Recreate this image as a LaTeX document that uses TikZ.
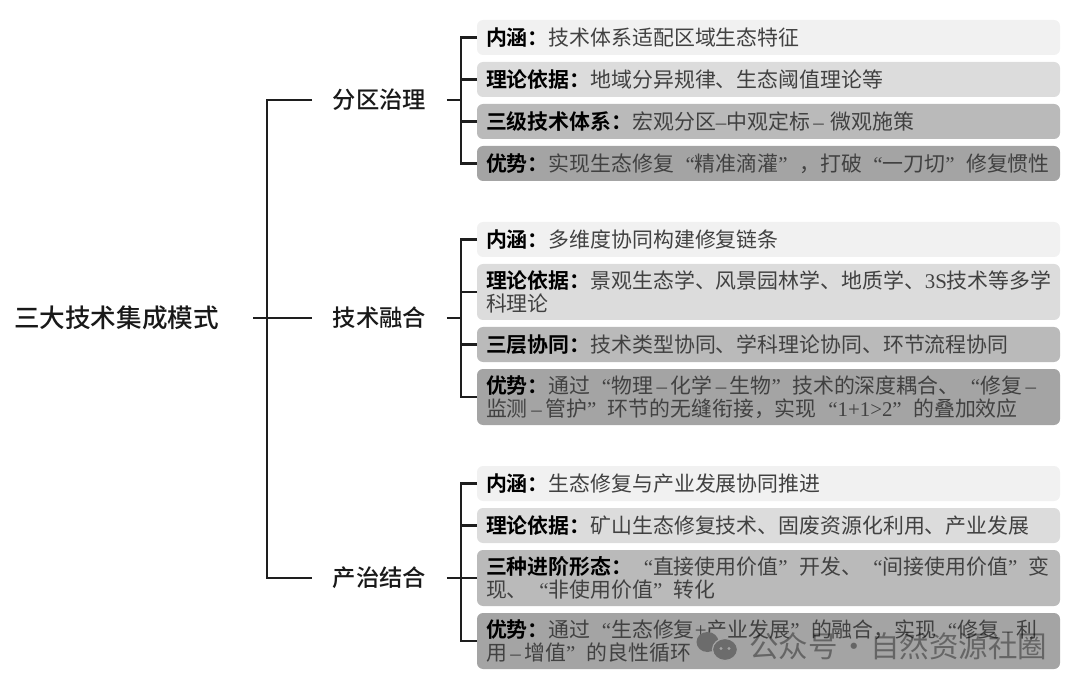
\documentclass[tikz,border=0pt]{standalone}
\usepackage{fontspec}
\setmainfont[BoldFont=* Bold]{Noto Sans CJK SC}
\newfontfamily\latfont{Liberation Serif}
\newfontfamily\midfont{Noto Sans CJK SC Medium}
\usepackage{tikz}
\usetikzlibrary{positioning}
\definecolor{cBox}{RGB}{241,241,241}
\definecolor{cBoxb}{RGB}{220,220,220}
\definecolor{cBoxc}{RGB}{186,186,186}
\definecolor{cBoxd}{RGB}{164,164,164}
\definecolor{cLine}{RGB}{30,30,30}
\definecolor{cText}{RGB}{65,65,65}
\definecolor{cIcon}{RGB}{108,108,108}
\tikzset{
  basebox/.style={rectangle,rounded corners=6pt,align=left,text width=565pt,inner xsep=9pt,inner ysep=-2pt,outer sep=0pt,
    minimum height=35pt,text=cText,font=\fontsize{20.9}{22.5}\selectfont},
  itemone/.style={basebox,fill=cBox},
  itemtwo/.style={basebox,fill=cBoxb},
  itemthree/.style={basebox,fill=cBoxc},
  itemfour/.style={basebox,fill=cBoxd},
  rootnode/.style={inner sep=0pt,text=black!90,font=\midfont\fontsize{25.6}{28}\selectfont},
  subnode/.style={inner ysep=0pt,inner xsep=20.5pt,text=black!90,font=\midfont\fontsize{23.3}{26}\selectfont},
  brline/.style={line width=2.2pt,color=cLine},
  iconbub/.style={fill=cIcon,draw=cBoxd,line width=1.2pt},
  markstyle/.style={inner sep=0pt,text=black,opacity=0.38,font=\fontsize{29.5}{32}\selectfont}
}
\newcommand{\tagtxt}[1]{\textbf{\textcolor{black}{#1}}}
\newcommand{\qL}{\hspace*{0.55em}{\latfont “}}
\newcommand{\qR}{{\latfont ”}\hspace*{0.55em}}
\newcommand{\dsh}{{\latfont \,–\,}}
\begin{document}
\begin{tikzpicture}[x=1pt,y=-1pt,node distance=7pt]
  \useasboundingbox (0,0) rectangle (1080,687);

  \node[rootnode] (root) at (116.5,318) {三大技术集成模式};
  \node[subnode] (sub1) at (379.5,100) {分区治理};
  \node[subnode] (sub2) at (379.5,318) {技术融合};
  \node[subnode] (sub3) at (379.5,578) {产治结合};

  % first group
  \node[itemone,anchor=north west] (a1) at (477,20) {\tagtxt{内涵：}技术体系适配区域生态特征};
  \node[itemtwo,below=of a1] (a2) {\tagtxt{理论依据：}地域分异规律、生态阈值理论等};
  \node[itemthree,below=of a2] (a3) {\tagtxt{三级技术体系：}宏观分区{\latfont –}中观定标\dsh\,微观施策};
  \node[itemfour,below=of a3] (a4) {\tagtxt{优势：}实现生态修复\qL 精准滴灌\qR，打破\qL 一刀切\qR 修复惯性};

  % second group
  \node[itemone,anchor=north west] (b1) at (477,222) {\tagtxt{内涵：}多维度协同构建修复链条};
  \node[itemtwo,below=of b1,minimum height=56pt] (b2)
    {\tagtxt{理论依据：}景观生态学、风景园林学、地质学、{\latfont 3S}技术等多学\\科理论};
  \node[itemthree,below=of b2] (b3) {\tagtxt{三层协同：}技术类型协同、学科理论协同、环节流程协同};
  \node[itemfour,below=of b3,minimum height=56pt] (b4)
    {\tagtxt{优势：}通过\qL 物理\dsh 化学\dsh 生物\qR 技术的深度耦合、\qL 修复\dsh\\
     监测\dsh 管护\qR 环节的无缝衔接，实现\qL{\latfont 1+1>2}\qR 的叠加效应};

  % third group
  \node[itemone,anchor=north west] (c1) at (477,466) {\tagtxt{内涵：}生态修复与产业发展协同推进};
  \node[itemtwo,below=of c1] (c2) {\tagtxt{理论依据：}矿山生态修复技术、固废资源化利用、产业发展};
  \node[itemthree,below=of c2,minimum height=56pt] (c3)
    {\tagtxt{三种进阶形态：}\qL 直接使用价值\qR 开发、\qL 间接使用价值\qR 变\\
     现、\qL 非使用价值\qR 转化};
  \node[itemfour,below=of c3,minimum height=56pt] (c4)
    {\tagtxt{优势：}通过\qL 生态修复{\latfont +}产业发展\qR 的融合，实现\qL 修复\dsh 利\\
     用\dsh 增值\qR 的良性循环};

  \draw[brline,shorten <=34pt] (root.east) -- (sub2.west);
  \coordinate (trunk) at (267,318);
  \draw[brline] (sub1.west) -- (trunk |- sub1.west) -- (trunk |- sub3.west) -- (sub3.west);

  \foreach \grp/\sb in {a/sub1,b/sub2,c/sub3}{
    \coordinate (\grp stem) at ([xshift=-16pt]\grp1.west);
    \draw[brline] (\sb.east) -- (\sb.east -| \grp stem);
    \draw[brline] (\grp1.west) -- (\grp stem) -- (\grp stem |- \grp4.west) -- (\grp4.west);
    \draw[brline] (\grp2.west) -- (\grp2.west -| \grp stem);
    \draw[brline] (\grp3.west) -- (\grp3.west -| \grp stem);
  }

  % watermark
  \fill[cIcon] (707.5,642) ellipse (11pt and 10pt);
  \draw[iconbub] (725,649.5) ellipse (12.5pt and 11pt);
  \fill[cBoxd] (721,648.5) circle (1.6pt) (729,648.5) circle (1.6pt);
  \node[markstyle,anchor=west] (mark) at (749,646) {公众号\hspace{.05em}·\hspace{.05em}自然资源社圈};
\end{tikzpicture}
\end{document}
